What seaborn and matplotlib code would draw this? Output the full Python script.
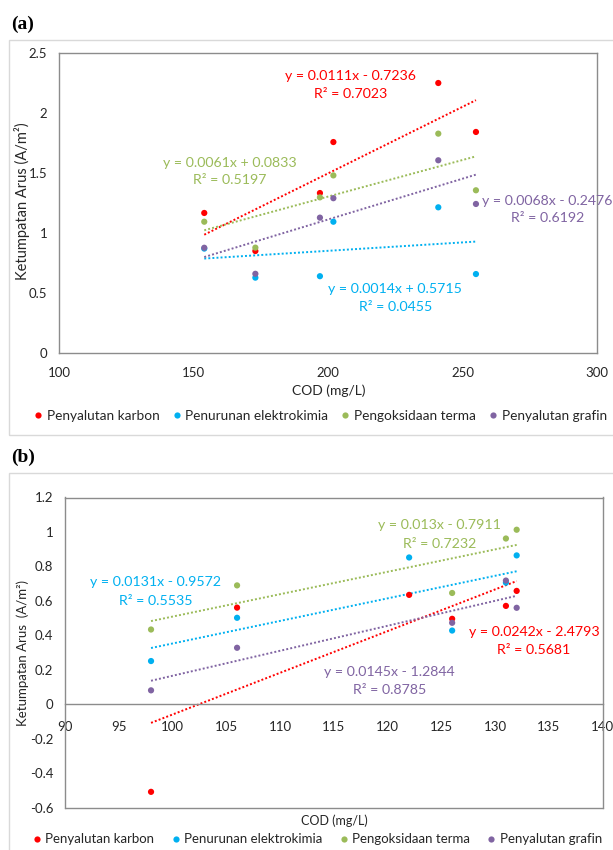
import numpy as np
import pandas as pd
import matplotlib
matplotlib.use("Agg")
import matplotlib.pyplot as plt
import seaborn as sns
from matplotlib.patches import Rectangle
from matplotlib.ticker import FuncFormatter, MultipleLocator

methods = ["Penyalutan karbon", "Penurunan elektrokimia",
           "Pengoksidaan terma", "Penyalutan grafin"]
colors = ["#FF0000", "#00B0F0", "#9BBB59", "#8064A2"]

# (a) current density against COD
cod_a = [154, 173, 197, 202, 241, 255]
karbon_a = [1.167, 0.850, 1.333, 1.758, 2.250, 1.842]
elektro_a = [0.870, 0.628, 0.640, 1.094, 1.214, 0.658]
terma_a = [1.094, 0.878, 1.297, 1.480, 1.828, 1.356]
grafin_a = [0.877, 0.660, 1.128, 1.290, 1.606, 1.242]
slope_a = [0.0111, 0.0014, 0.0061, 0.0068]
icept_a = [-0.7236, 0.5715, 0.0833, -0.2476]
r2_a = [0.7023, 0.0455, 0.5197, 0.6192]

# (b) current density against COD
cod_b = [98, 106, 122, 126, 131, 132]
karbon_b = [-0.508, 0.561, 0.635, 0.496, 0.571, 0.658]
elektro_b = [0.251, 0.502, 0.852, 0.428, 0.706, 0.864]
terma_b = [0.434, 0.690, np.nan, 0.646, 0.962, 1.013]
grafin_b = [0.081, 0.328, np.nan, 0.473, 0.718, 0.560]
slope_b = [0.0242, 0.0131, 0.013, 0.0145]
icept_b = [-2.4793, -0.9572, -0.7911, -1.2844]
r2_b = [0.5681, 0.5535, 0.7232, 0.8785]

# where each trendline equation sits (data coordinates, eq line / R² line)
eq_pos_a = [(208.5, 2.305, 2.158), (225.0, 0.533, 0.383),
            (163.4, 1.583, 1.442), (281.5, 1.269, 1.125)]
eq_pos_b = [(133.6, 0.422, 0.317), (98.4, 0.708, 0.602),
            (124.8, 1.042, 0.933), (120.2, 0.187, 0.081)]

sns.set_theme(style="white")
plt.rcParams["font.family"] = ["Lato", "DejaVu Sans"]
TXT = "#262626"
SPINE = "#8C8C8C"

W, H = 613, 850
fig = plt.figure(figsize=(W / 100, H / 100), dpi=100)


def fx(px):
    return px / W


def fy(py):
    return 1 - py / H


# light chart-area frames
for top, bottom in [(40.5, 435), (472.7, 853)]:
    fig.patches.append(Rectangle((fx(9), fy(bottom)), 1.0, (bottom - top) / H,
                                 transform=fig.transFigure, fill=False,
                                 ec="#D9D9D9", lw=1.0))

ax_a = fig.add_axes([fx(59), fy(353), (597 - 59) / W, (353 - 53) / H])
ax_b = fig.add_axes([fx(65), fy(807.7), (602.7 - 65) / W, (807.7 - 497.5) / H])


def eq_text(k, c):
    sign = "+" if c >= 0 else "-"
    return f"y = {k:g}x {sign} {abs(c):.4f}"


def draw_panel(ax, cod, series, slopes, icepts, r2s, eq_pos, eq_fs):
    df = pd.DataFrame({
        "COD": np.tile(cod, len(methods)),
        "J": np.concatenate(series),
        "Kaedah": np.repeat(methods, len(cod)),
    }).dropna()
    for name, col, k, c in zip(methods, colors, slopes, icepts):
        sub = df[df["Kaedah"] == name]
        x0, x1 = sub["COD"].min(), sub["COD"].max()
        fit = pd.DataFrame({"COD": [x0, x1], "J": [k * x0 + c, k * x1 + c]})
        sns.lineplot(data=fit, x="COD", y="J", color=col, linewidth=1.4,
                     linestyle=(0, (1.0, 1.1)), errorbar=None, ax=ax,
                     legend=False, zorder=2)
    sns.scatterplot(data=df, x="COD", y="J", hue="Kaedah", hue_order=methods,
                    palette=colors, s=20, linewidth=0, ax=ax, zorder=3)
    for col, k, c, r, (tx, ty1, ty2) in zip(colors, slopes, icepts, r2s, eq_pos):
        ax.text(tx, ty1, eq_text(k, c), color=col, ha="center", va="center",
                fontsize=eq_fs)
        ax.text(tx, ty2, f"R² = {r:.4f}", color=col, ha="center", va="center",
                fontsize=eq_fs)
    ax.set_xlabel("")
    ax.set_ylabel("")
    for sp in ax.spines.values():
        sp.set_visible(True)
        sp.set_color(SPINE)
        sp.set_linewidth(1.0)
    ax.yaxis.set_major_formatter(FuncFormatter(lambda v, p: f"{v:g}"))
    ax.xaxis.set_major_formatter(FuncFormatter(lambda v, p: f"{v:g}"))
    ax.tick_params(length=0, labelsize=9.5, colors=TXT)
    ax.tick_params(axis="y", pad=8.5)


draw_panel(ax_a, cod_a, [karbon_a, elektro_a, terma_a, grafin_a],
           slope_a, icept_a, r2_a, eq_pos_a, 10.2)
ax_a.set_xlim(100, 300)
ax_a.set_ylim(0, 2.5)
ax_a.xaxis.set_major_locator(MultipleLocator(50))
ax_a.yaxis.set_major_locator(MultipleLocator(0.5))
ax_a.tick_params(axis="x", pad=10)
sns.move_legend(ax_a, "center", bbox_to_anchor=((320.5 - 59) / 538, (353 - 416) / 300),
                ncol=4, title=None, frameon=False, fontsize=9.8,
                handlelength=0.6, handletextpad=0.35, columnspacing=0.95,
                labelcolor=TXT)

draw_panel(ax_b, cod_b, [karbon_b, elektro_b, terma_b, grafin_b],
           slope_b, icept_b, r2_b, eq_pos_b, 10.2)
ax_b.set_xlim(90, 140)
ax_b.set_ylim(-0.6, 1.2)
ax_b.xaxis.set_major_locator(MultipleLocator(5))
ax_b.yaxis.set_major_locator(MultipleLocator(0.2))
ax_b.spines["bottom"].set_position(("data", 0))
ax_b.plot([0, 1], [0, 0], transform=ax_b.transAxes, color=SPINE, lw=1.0,
          clip_on=False, zorder=1)
ax_b.tick_params(axis="x", pad=12)
sns.move_legend(ax_b, "center", bbox_to_anchor=((317.5 - 65) / 537.7, (807.7 - 839.3) / 310.2),
                ncol=4, title=None, frameon=False, fontsize=9.5,
                handlelength=0.6, handletextpad=0.35, columnspacing=1.3,
                labelcolor=TXT)

# axis titles
fig.text(fx(22), fy(201.5), "Ketumpatan Arus (A/m²)", rotation=90,
         ha="center", va="center", fontsize=10.5, color=TXT)
fig.text(fx(329), fy(391), "COD (mg/L)", ha="center", va="center",
         fontsize=10, color=TXT)
fig.text(fx(23), fy(653), "Ketumpatan Arus  (A/m²)", rotation=90,
         ha="center", va="center", fontsize=9.5, color=TXT)
fig.text(fx(334), fy(821), "COD (mg/L)", ha="center", va="center",
         fontsize=9, color=TXT)

# panel tags
fig.text(fx(11), fy(24), "(a)", family=["Liberation Serif", "DejaVu Serif"],
         fontweight="bold", fontsize=14, ha="left", va="center", color="black")
fig.text(fx(11), fy(457), "(b)", family=["Liberation Serif", "DejaVu Serif"],
         fontweight="bold", fontsize=14, ha="left", va="center", color="black")

fig.savefig("out.png", dpi=100, facecolor="white")
